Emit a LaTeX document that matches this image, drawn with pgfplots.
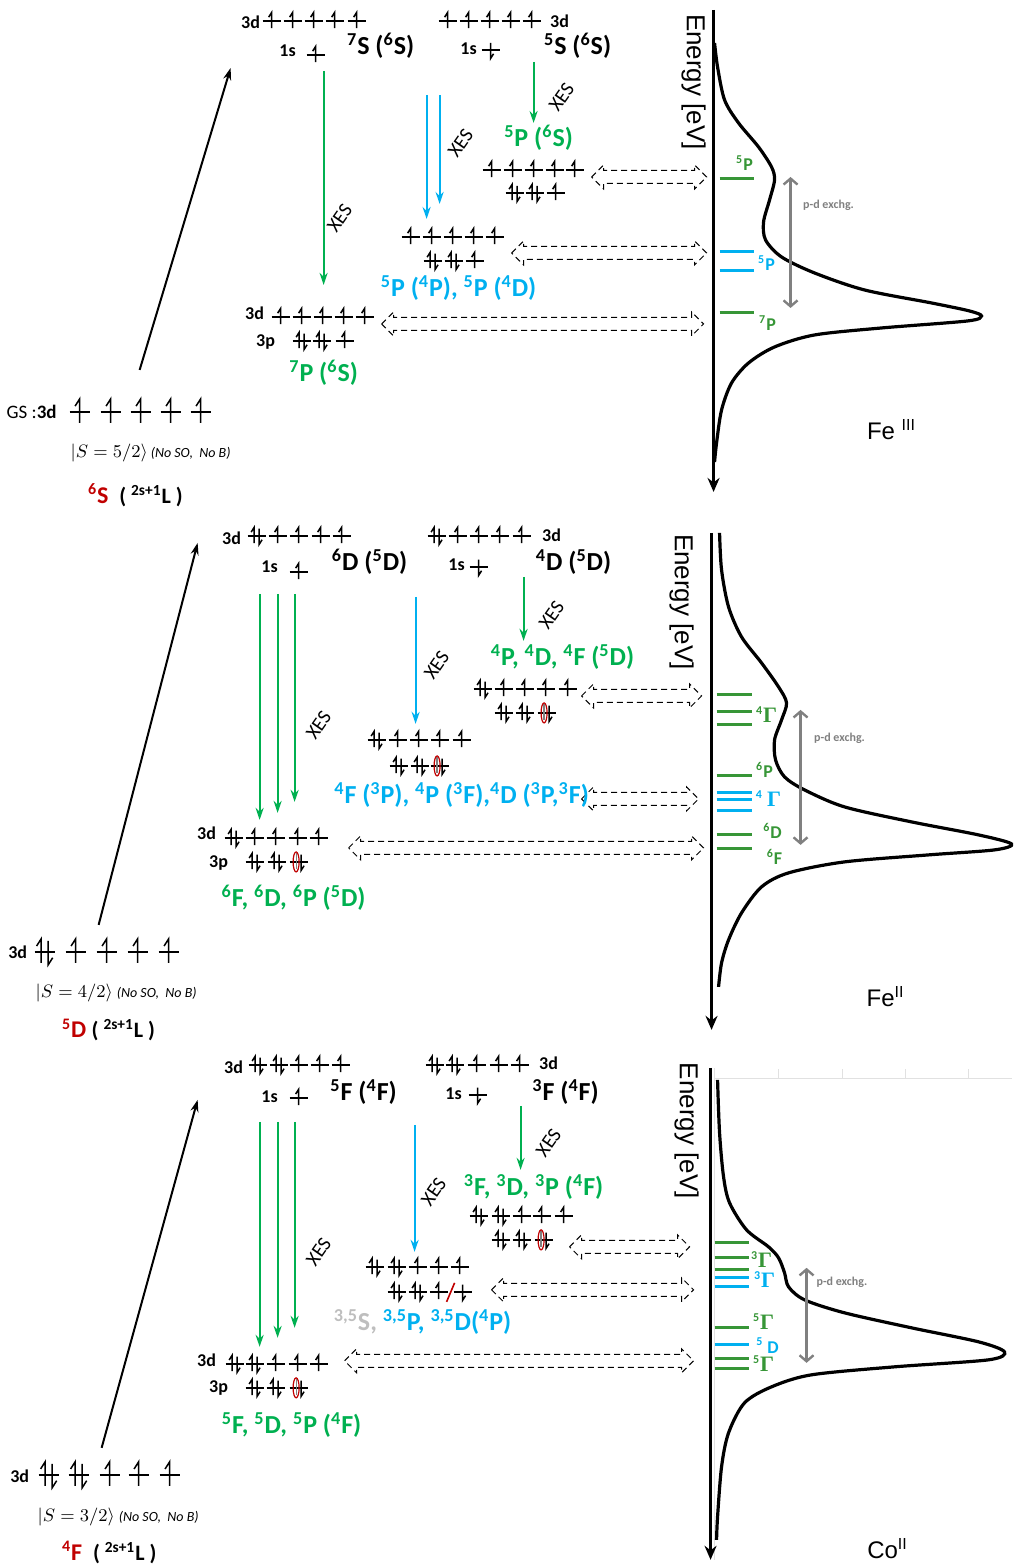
\documentclass[border=0pt]{standalone}
\usepackage{pgfplots}
\pgfplotsset{compat=1.18}
\usepackage{fontspec}
\setmainfont{Carlito}
\newfontfamily\arial{Liberation Sans}
\newfontfamily\tnr{Liberation Serif}
\usetikzlibrary{arrows.meta}
\definecolor{xgreen}{RGB}{0,176,80}
\definecolor{lgreen}{RGB}{55,150,55}
\definecolor{xblue}{RGB}{0,176,240}
\definecolor{xred}{RGB}{192,0,0}
\definecolor{xgray}{RGB}{128,128,128}
\definecolor{lgray}{RGB}{190,190,190}
\definecolor{fgray}{RGB}{225,225,225}

\newcommand\orbsmall{\def\ORBa{9}\def\ORBh{8.5}\def\ORBd{2.5}}
\newcommand\orbbig{\def\ORBa{10}\def\ORBh{13}\def\ORBd{3.5}}
\pgfplotsset{orb/.style={black, line width=0.75pt, mark=none}}
\newcommand\base[2]{\pgfmathsetmacro\xa{#1-\ORBa}\pgfmathsetmacro\xb{#1+\ORBa}\addplot[orb] coordinates {(\xa,#2) (\xb,#2)};}
\newcommand\eup[2]{%
 \pgfmathsetmacro\xt{#1-0.35*\ORBh}\pgfmathsetmacro\yt{#2-0.45*\ORBh}%
 \pgfmathsetmacro\ya{#2-\ORBh}\pgfmathsetmacro\yb{#2+0.85*\ORBh}%
 \addplot[orb] coordinates {(\xt,\yt) (#1,\ya) (#1,\yb)};}
\newcommand\edn[2]{%
 \pgfmathsetmacro\xt{#1+0.35*\ORBh}\pgfmathsetmacro\yt{#2+0.45*\ORBh}%
 \pgfmathsetmacro\ya{#2-0.85*\ORBh}\pgfmathsetmacro\yb{#2+\ORBh}%
 \addplot[orb] coordinates {(#1,\ya) (#1,\yb) (\xt,\yt)};}
\newcommand\oU[2]{\base{#1}{#2}\eup{#1}{#2}}
\newcommand\oD[2]{\base{#1}{#2}\edn{#1}{#2}}
\newcommand\oP[2]{\base{#1}{#2}\pgfmathsetmacro\xl{#1-\ORBd}\pgfmathsetmacro\xr{#1+\ORBd}\eup{\xl}{#2}\edn{\xr}{#2}}
\newcommand\oH[2]{\base{#1}{#2}\pgfmathsetmacro\xl{#1-\ORBd}\pgfmathsetmacro\xr{#1+\ORBd}\edn{\xr}{#2}%
 \pgfmathsetmacro\ya{#2-\ORBh}\pgfmathsetmacro\yb{#2+0.85*\ORBh}%
 \addplot[gray, line width=0.6pt] coordinates {(\xl,\ya) (\xl,\yb)};%
 \addplot[only marks, mark=o, mark size=5pt, mark options={draw=xred, line width=0.6pt, xscale=0.3}] coordinates {(\xl,#2)};}
\newcommand\dbl[3]{%
 \pgfmathsetmacro\pa{#1+12}\pgfmathsetmacro\pb{#2-12}%
 \pgfmathsetmacro\ua{#3-12}\pgfmathsetmacro\ub{#3-6.5}\pgfmathsetmacro\uc{#3+6.5}\pgfmathsetmacro\ud{#3+12}%
 \addplot[black, line width=0.5pt, dash pattern=on 3pt off 2pt] coordinates {(#1,#3) (\pa,\ua) (\pa,\ub) (\pb,\ub) (\pb,\ua) (#2,#3) (\pb,\ud) (\pb,\uc) (\pa,\uc) (\pa,\ud) (#1,#3)};}
\newcommand\lv[4]{\addplot[#1, line width=1.5pt] coordinates {(#2,#4) (#3,#4)};}
\newcommand\arr[5]{\addplot[#1, line width=1pt, -{Stealth[length=6pt,width=4pt]}] coordinates {(#2,#3) (#4,#5)};}
\newcommand\garr[3]{\addplot[xgray, line width=1.2pt, {Straight Barb[length=3pt,width=7pt]}-{Straight Barb[length=3pt,width=7pt]}] coordinates {(#1,#2) (#1,#3)};}

\tikzset{
 big/.style={font=\fontsize{13}{15}\selectfont\bfseries},
 sm/.style={font=\fontsize{9}{10}\selectfont\bfseries},
 xes/.style={font=\fontsize{10}{12}\selectfont, rotate=55},
 en/.style={font={\arial\fontsize{13}{15}\selectfont}, rotate=-90},
 lvl/.style={font=\fontsize{9}{10}\selectfont\bfseries},
 pd/.style={font=\fontsize{6}{7}\selectfont\bfseries, text=xgray},
 fe/.style={font={\arial\fontsize{12}{14}\selectfont}},
 ket/.style={font=\fontsize{9}{10}\selectfont, anchor=west},
 gsl/.style={font=\fontsize{12}{14}\selectfont\bfseries, anchor=west, inner sep=1pt},
}
\newcommand\su[1]{\textsuperscript{#1}}
\newcommand\G{{\tnr\bfseries\fontsize{11}{12}\selectfont Γ}}

\begin{document}
\begin{tikzpicture}
\begin{axis}[scale only axis, width=506pt, height=783pt, xmin=0, xmax=1012, ymin=0, ymax=1566,
  y dir=reverse, hide axis, clip=false]
\addplot[draw=none, forget plot] coordinates {(0,0) (1012,1566)};

% ================= PANEL 1 : Fe III =================
\orbsmall
\oU{270}{21}\oU{291}{21}\oU{312}{21}\oU{333}{21}\oU{355}{21}
\oU{314}{55}
\oU{446}{21}\oU{467}{21}\oU{488}{21}\oU{509}{21}\oU{530}{21}
\oD{489}{50}
\oU{490}{170}\oU{511}{170}\oU{532}{170}\oU{553}{170}\oU{573}{170}
\oP{513}{193}\oP{533}{193}\oU{554}{193}
\oU{409}{237}\oU{430}{237}\oU{451}{237}\oU{472}{237}\oU{493}{237}
\oP{431}{261}\oP{452}{261}\oU{473}{261}
\oU{279}{317}\oU{300}{317}\oU{321}{317}\oU{342}{317}\oU{363}{317}
\oP{300}{341}\oP{320}{341}\oU{343}{341}
\orbbig
\oU{78}{412}\oU{109}{412}\oU{139}{412}\oU{169}{412}\oU{199}{412}

\arr{black}{138}{370}{229}{68}
\arr{xgreen}{322}{71}{322}{285}
\arr{xblue}{425}{95}{425}{219}
\arr{xblue}{438}{95}{438}{204}
\arr{xgreen}{532}{62}{532}{123}

\dbl{590}{705}{177}
\dbl{510}{705}{253}
\dbl{380}{702}{324}

% spectrum 1
\addplot[black, line width=1.5pt, -{Stealth[length=7pt,width=6pt]}] coordinates {(712,10) (712,492)};
\addplot[black, line width=1.6pt, smooth] coordinates {
(713,43) (716,67) (723,100) (737,123) (757,147) (770,167) (773,180) (768,200) (762,222)
(764,240) (780,257) (813,273) (863,290) (930,303) (968,311) (980,316) (966,321) (880,328)
(813,335) (773,347) (747,363) (730,383) (720,410) (715,443) (713,462)};
\lv{lgreen}{718}{752}{179}
\lv{xblue}{718}{752}{252}
\lv{xblue}{718}{752}{271}
\lv{lgreen}{718}{752}{313}
\garr{789}{177}{308}

% ================= PANEL 2 : Fe II =================
\orbsmall
\oP{255}{536}\oU{276}{536}\oU{297}{536}\oU{319}{536}\oU{340}{536}
\oU{297}{572}
\oP{435}{536}\oU{456}{536}\oU{477}{536}\oU{498}{536}\oU{520}{536}
\oD{477}{567}
\oP{481}{689}\oU{502}{689}\oU{523}{689}\oU{544}{689}\oU{566}{689}
\oP{502}{713}\oP{523}{713}\oH{545}{713}
\oP{375}{740}\oU{396}{740}\oU{417}{740}\oU{438}{740}\oU{460}{740}
\oP{397}{766}\oP{418}{766}\oH{438}{766}
\oP{232}{838}\oU{253}{838}\oU{274}{838}\oU{296}{838}\oU{317}{838}
\oP{253}{862}\oP{275}{862}\oH{297}{862}
\orbbig
\oP{43}{952}\oU{74}{952}\oU{105}{952}\oU{136}{952}\oU{167}{952}

\arr{black}{97}{925}{196}{543}
\arr{xgreen}{258}{594}{258}{820}
\arr{xgreen}{276}{594}{276}{813}
\arr{xgreen}{293}{594}{293}{802}
\arr{xblue}{414}{597}{414}{724}
\arr{xgreen}{522}{577}{522}{641}

\dbl{580}{700}{696}
\dbl{580}{697}{799}
\dbl{347}{702}{848}

\addplot[black, line width=1.5pt, -{Stealth[length=7pt,width=6pt]}] coordinates {(710,533) (710,1030)};
\addplot[black, line width=1.6pt, smooth] coordinates {
(718,533) (720,570) (727,607) (740,637) (760,663) (777,687) (785,703) (780,720) (773,740)
(774,760) (783,777) (803,790) (843,807) (910,822) (977,835) (1010,844) (993,850) (927,855)
(843,862) (787,873) (760,887) (740,913) (727,940) (720,963) (717,987)};
\lv{lgreen}{715}{750}{695}
\lv{lgreen}{715}{750}{712}
\lv{lgreen}{715}{750}{725}
\lv{lgreen}{715}{750}{776}
\lv{xblue}{715}{750}{793}
\lv{xblue}{715}{750}{800}
\lv{xblue}{715}{750}{811}
\lv{lgreen}{715}{750}{835}
\lv{lgreen}{715}{750}{849}
\garr{799}{710}{845}

% ================= PANEL 3 : Co II =================
\orbsmall
\oP{256}{1065}\oP{277}{1065}\oU{297}{1065}\oU{318}{1065}\oU{339}{1065}
\oU{297}{1098}
\oP{433}{1065}\oP{453}{1065}\oU{475}{1065}\oU{497}{1065}\oU{518}{1065}
\oD{476}{1095}
\oP{477}{1216}\oP{499}{1216}\oU{520}{1216}\oU{540}{1216}\oU{562}{1216}
\oP{499}{1240}\oP{520}{1240}\oH{542}{1240}
\oP{373}{1267}\oP{395}{1267}\oU{416}{1267}\oU{437}{1267}\oU{458}{1267}
\oP{395}{1292}\oP{416}{1292}\oU{437}{1292}\oD{461}{1292}
\addplot[xred, line width=0.8pt] coordinates {(445,1302) (453,1283)};
\oP{233}{1364}\oP{253}{1364}\oU{274}{1364}\oU{296}{1364}\oU{317}{1364}
\oP{253}{1388}\oP{274}{1388}\oH{297}{1388}
\orbbig
\oP{47}{1475}\oP{77}{1475}\oU{108}{1475}\oU{137}{1475}\oU{168}{1475}

\arr{black}{100}{1448}{196}{1100}
\arr{xgreen}{258}{1122}{258}{1347}
\arr{xgreen}{276}{1122}{276}{1338}
\arr{xgreen}{293}{1122}{293}{1328}
\arr{xblue}{413}{1125}{413}{1252}
\arr{xgreen}{519}{1106}{519}{1170}

\dbl{568}{688}{1247}
\dbl{490}{692}{1290}
\dbl{343}{692}{1361}

% light frame
\addplot[fgray, line width=0.6pt] coordinates {(713,1079) (1010,1079)};
\addplot[fgray, line width=0.6pt] coordinates {(713,1068) (713,1560)};
\addplot[fgray, line width=0.6pt] coordinates {(777,1069) (777,1079)};
\addplot[fgray, line width=0.6pt] coordinates {(841,1069) (841,1079)};
\addplot[fgray, line width=0.6pt] coordinates {(904,1069) (904,1079)};
\addplot[fgray, line width=0.6pt] coordinates {(967,1069) (967,1079)};

\addplot[black, line width=1.5pt, -{Stealth[length=7pt,width=6pt]}] coordinates {(709,1068) (709,1560)};
\addplot[black, line width=1.6pt, smooth] coordinates {
(716,1080) (718,1133) (722,1177) (728,1203) (745,1230) (767,1247) (777,1258) (783,1273)
(787,1287) (803,1300) (843,1313) (910,1328) (977,1342) (1003,1352) (987,1360) (893,1367)
(810,1375) (770,1387) (743,1403) (727,1433) (720,1467) (716,1517) (715,1540)};
\lv{lgreen}{713}{747}{1243}
\lv{lgreen}{713}{747}{1258}
\lv{lgreen}{713}{747}{1270}
\lv{xblue}{713}{747}{1278}
\lv{xblue}{713}{747}{1287}
\lv{lgreen}{713}{747}{1328}
\lv{xblue}{713}{747}{1345}
\lv{lgreen}{713}{747}{1359}
\lv{lgreen}{713}{747}{1369}
\garr{805}{1268}{1363}

% ================= TEXT =================
% panel 1
\node[sm] at (axis cs:249,22) {3d};
\node[sm] at (axis cs:286,51) {1s};
\node[big] at (axis cs:379,46) {\su{7}S (\su{6}S)};
\node[sm] at (axis cs:558,21) {3d};
\node[sm] at (axis cs:467,49) {1s};
\node[big] at (axis cs:576,46) {\su{5}S (\su{6}S)};
\node[xes] at (axis cs:338,218) {XES};
\node[xes] at (axis cs:459,143) {XES};
\node[xes] at (axis cs:560,97) {XES};
\node[big, text=xgreen] at (axis cs:537,138) {\su{5}P (\su{6}S)};
\node[big, text=xblue] at (axis cs:457,288) {\su{5}P (\su{4}P), \su{5}P (\su{4}D)};
\node[sm] at (axis cs:253,313) {3d};
\node[sm] at (axis cs:264,342) {3p};
\node[big, text=xgreen] at (axis cs:322,373) {\su{7}P (\su{6}S)};
\node[font=\fontsize{9.5}{11}\selectfont, anchor=east] at (axis cs:62,412) {GS :\textbf{3d}};
\node[ket] at (axis cs:62,453) {$|S=5/2\rangle$\,{\fontsize{7}{8}\selectfont\itshape (No SO,\ \ No B)}};
\node[gsl] at (axis cs:84,495) {\textcolor{xred}{\su{6}S}\ \ {\fontsize{11}{12}\selectfont ( \su{2s+1}L )}};
\node[en] at (axis cs:692,82) {Energy [eV]};
\node[lvl, text=lgreen] at (axis cs:743,163) {\su{5}P};
\node[lvl, text=xblue] at (axis cs:765,263) {\su{5}P};
\node[lvl, text=lgreen] at (axis cs:766,323) {\su{7}P};
\node[pd] at (axis cs:827,205) {p-d exchg.};
\node[fe] at (axis cs:890,430) {Fe \su{III}};

% panel 2
\node[sm] at (axis cs:230,538) {3d};
\node[sm] at (axis cs:268,567) {1s};
\node[big] at (axis cs:368,562) {\su{6}D (\su{5}D)};
\node[sm] at (axis cs:550,535) {3d};
\node[sm] at (axis cs:455,565) {1s};
\node[big] at (axis cs:572,562) {\su{4}D (\su{5}D)};
\node[xes] at (axis cs:317,725) {XES};
\node[xes] at (axis cs:435,665) {XES};
\node[xes] at (axis cs:550,615) {XES};
\node[big, text=xgreen] at (axis cs:561,657) {\su{4}P, \su{4}D, \su{4}F (\su{5}D)};
\node[big, text=xblue] at (axis cs:460,795) {\su{4}F (\su{3}P), \su{4}P (\su{3}F),\su{4}D (\su{3}P,\su{3}F)};
\node[sm] at (axis cs:205,833) {3d};
\node[sm] at (axis cs:217,863) {3p};
\node[big, text=xgreen] at (axis cs:292,898) {\su{6}F, \su{6}D, \su{6}P (\su{5}D)};
\node[sm] at (axis cs:16,952) {3d};
\node[ket] at (axis cs:27,993) {$|S=4/2\rangle$\ {\fontsize{7}{8}\selectfont\itshape (No SO,\ \ No B)}};
\node[gsl] at (axis cs:58,1030) {\textcolor{xred}{\su{5}D} {\fontsize{11}{12}\selectfont ( \su{2s+1}L )}};
\node[en] at (axis cs:680,602) {Energy [eV]};
\node[lvl, text=lgreen] at (axis cs:765,715) {\su{4}\G};
\node[lvl, text=lgreen] at (axis cs:763,770) {\su{6}P};
\node[lvl, text=xblue] at (axis cs:767,799) {\su{4} \G};
\node[lvl, text=lgreen] at (axis cs:771,831) {\su{6}D};
\node[lvl, text=lgreen] at (axis cs:773,857) {\su{6}F};
\node[pd] at (axis cs:838,738) {p-d exchg.};
\node[fe] at (axis cs:884,997) {Fe\su{II}};

% panel 3
\node[sm] at (axis cs:232,1067) {3d};
\node[sm] at (axis cs:268,1097) {1s};
\node[big] at (axis cs:362,1092) {\su{5}F (\su{4}F)};
\node[sm] at (axis cs:547,1063) {3d};
\node[sm] at (axis cs:452,1094) {1s};
\node[big] at (axis cs:564,1092) {\su{3}F (\su{4}F)};
\node[xes] at (axis cs:317,1252) {XES};
\node[xes] at (axis cs:432,1192) {XES};
\node[xes] at (axis cs:547,1143) {XES};
\node[big, text=xgreen] at (axis cs:532,1187) {\su{3}F, \su{3}D, \su{3}P (\su{4}F)};
\node[big] at (axis cs:421,1322) {\textcolor{lgray}{\su{3,5}S,} \textcolor{xblue}{\su{3,5}P, \su{3,5}D(\su{4}P)}};
\node[sm] at (axis cs:205,1360) {3d};
\node[sm] at (axis cs:217,1388) {3p};
\node[big, text=xgreen] at (axis cs:290,1425) {\su{5}F, \su{5}D, \su{5}P (\su{4}F)};
\node[sm] at (axis cs:18,1476) {3d};
\node[ket] at (axis cs:29,1517) {$|S=3/2\rangle$\ {\fontsize{7}{8}\selectfont\itshape (No SO,\ \ No B)}};
\node[gsl] at (axis cs:58,1553) {\textcolor{xred}{\su{4}F}\ \ {\fontsize{11}{12}\selectfont ( \su{2s+1}L )}};
\node[en] at (axis cs:685,1131) {Energy [eV]};
\node[lvl, text=lgreen] at (axis cs:760,1260) {\su{3}\G};
\node[lvl, text=xblue] at (axis cs:763,1280) {\su{3}\G};
\node[lvl, text=lgreen] at (axis cs:762,1322) {\su{5}\G};
\node[lvl, text=xblue] at (axis cs:766,1346) {\su{5} D};
\node[lvl, text=lgreen] at (axis cs:762,1364) {\su{5}\G};
\node[pd, anchor=west] at (axis cs:808,1282) {p-d exchg.};
\node[fe] at (axis cs:886,1549) {Co\su{II}};
\end{axis}
\end{tikzpicture}
\end{document}
